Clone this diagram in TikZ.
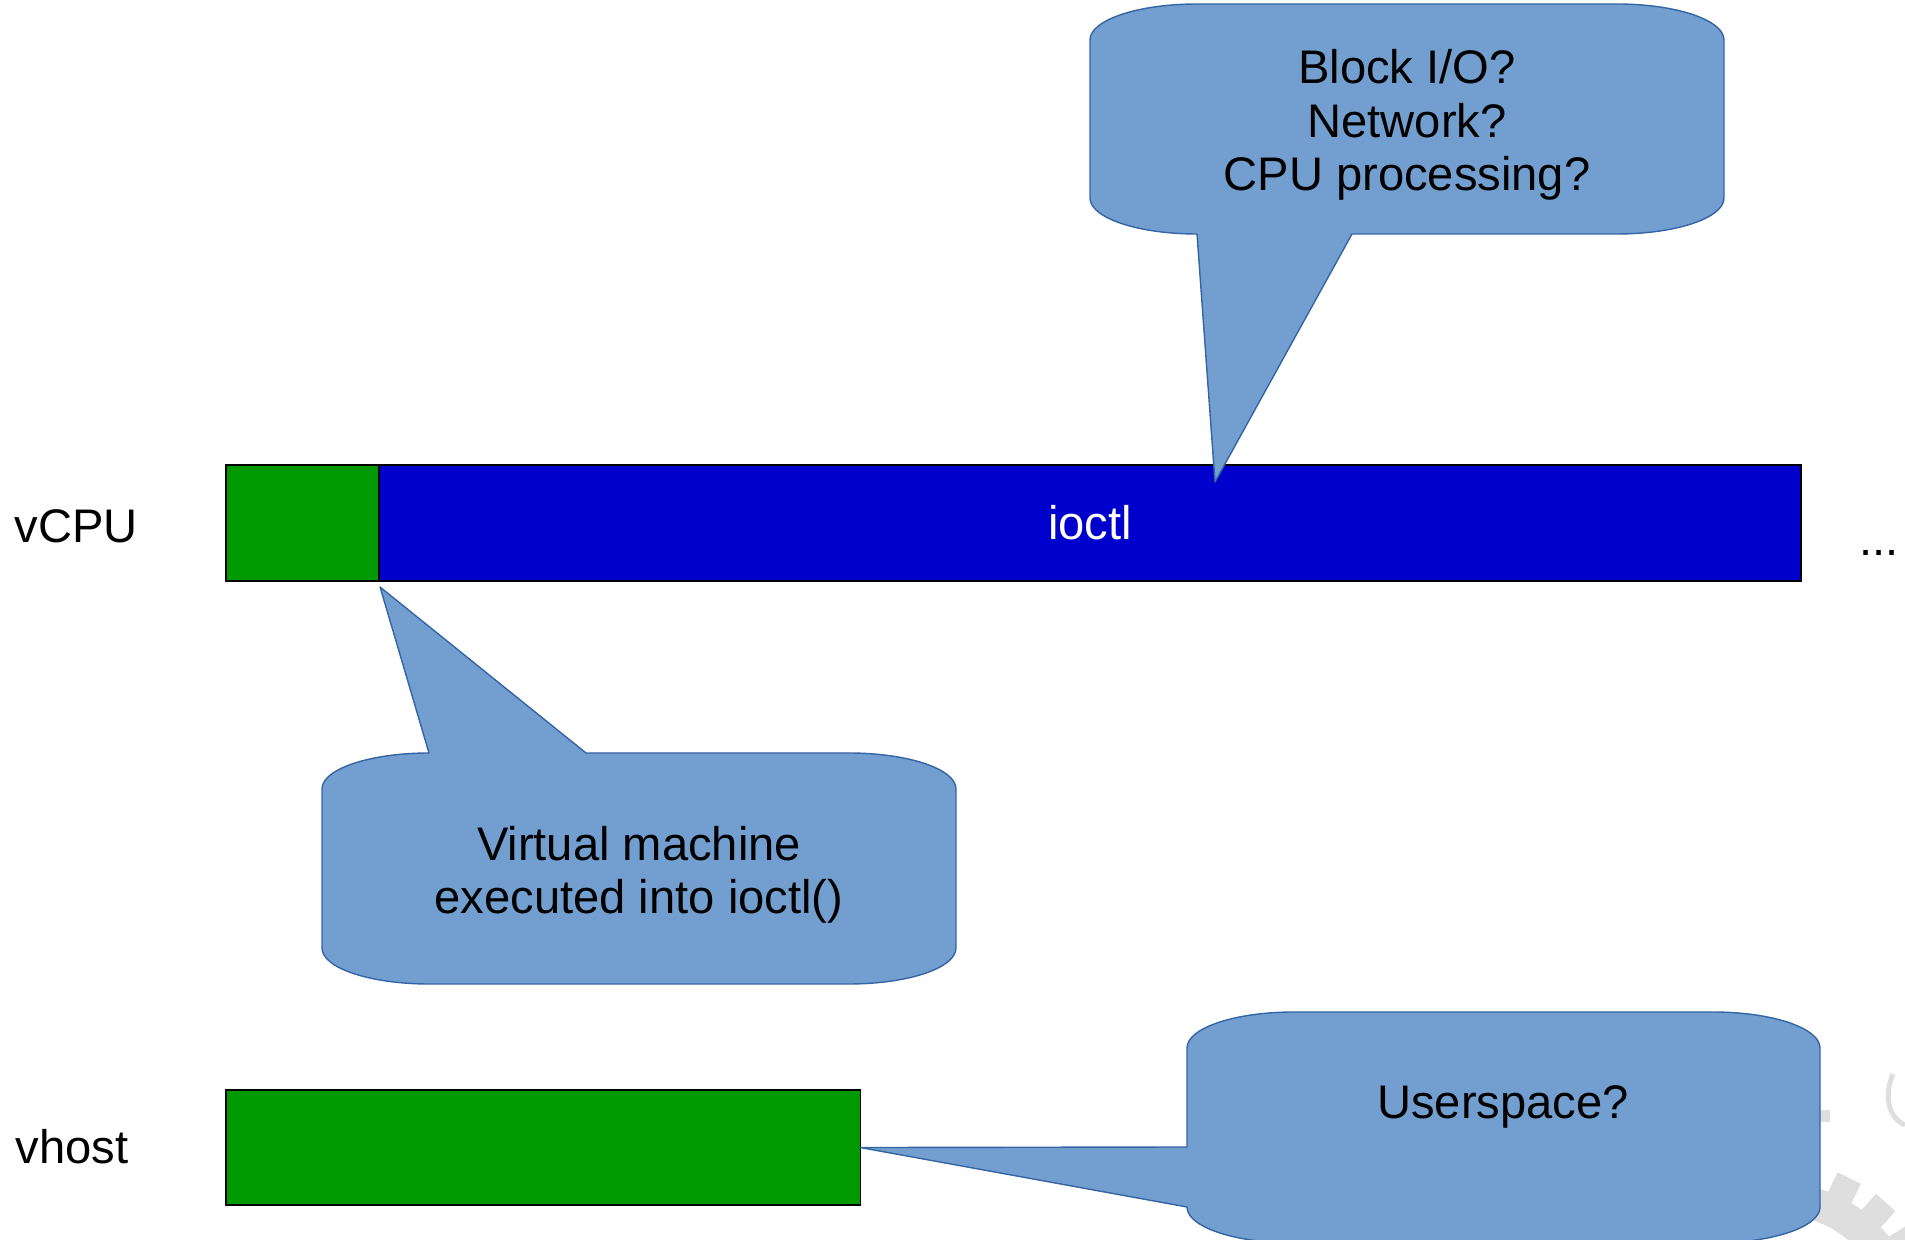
\documentclass[tikz,border=0pt]{standalone}
\usepackage{fontspec}
\setmainfont{Liberation Sans}
\usetikzlibrary{calc}

\definecolor{guestgreen}{RGB}{0,153,0}
\definecolor{ioctlblue}{RGB}{0,0,204}
\definecolor{bubblefill}{RGB}{114,159,207}
\definecolor{bubbleline}{RGB}{52,101,164}
\definecolor{markgray}{RGB}{222,222,222}

\begin{document}
\begin{tikzpicture}[x=0.01cm,y=-0.01cm,
  font=\fontsize{13.4}{15.2}\selectfont,
  bar/.style={draw=black,line width=0.4pt,inner sep=0pt,outer sep=0pt,anchor=north west,minimum height=1.16cm},
  bubble/.style={fill=bubblefill,draw=bubbleline,line width=0.4pt,line join=round},
  lbl/.style={inner sep=0pt,align=center}]
\useasboundingbox (0,0) rectangle (1905,1240);
\clip (0,0) rectangle (1905,1240);

% faint gear in the corner
\fill[markgray,even odd rule] (1780,1320) circle[radius=137] (1780,1320) circle[radius=105];
\foreach \a in {0,16,...,352}
  \fill[markgray,shift={(1780,1320)},rotate=\a] (130,-13) rectangle (158,13);
\fill[markgray] (1820,1110) rectangle (1830,1122);
\draw[markgray,line width=1.4pt] (1893,1074) .. controls (1884,1095) and (1888,1118) .. (1905,1125);

% rows
\node[lbl,anchor=west] (vcpu-lbl) at (14,526) {vCPU};
\node[lbl,anchor=west] (vhost-lbl) at (15,1147) {vhost};

\node[bar,fill=guestgreen,minimum width=1.53cm] (guest) at (226,465) {};
\node[bar,fill=ioctlblue,minimum width=14.21cm,text=white] (ioctl) at (379,465) {ioctl};
\node[lbl,anchor=base west] (more) at (1859,556) {...};

\node[bar,fill=guestgreen,minimum width=6.34cm,minimum height=1.15cm] (work) at (226,1090) {};

% callouts
\path[bubble] (1090,40) .. controls (1090,20) and (1138,4) .. (1197,4) -- (1617,4)
  .. controls (1676,4) and (1724,20) .. (1724,40) -- (1724,198)
  .. controls (1724,218) and (1676,234) .. (1617,234) -- (1352,234)
  -- ($(ioctl.north west)+(836,17)$) -- (1197,234)
  .. controls (1138,234) and (1090,218) .. (1090,198) -- cycle;
\node[lbl] (q-io) at (1407,125) {Block I/O?\\Network?\\CPU processing?};

\path[bubble] (322,789) .. controls (322,769) and (370,753) .. (429,753)
  -- ($(guest.south east)+(1,6)$) -- (586,753) -- (849,753)
  .. controls (908,753) and (956,769) .. (956,789) -- (956,948)
  .. controls (956,968) and (908,984) .. (849,984) -- (429,984)
  .. controls (370,984) and (322,968) .. (322,948) -- cycle;
\node[lbl] (q-vm) at (639,875) {Virtual machine\\executed into ioctl()};

\path[bubble] (1187,1048) .. controls (1187,1028) and (1235,1012) .. (1294,1012) -- (1713,1012)
  .. controls (1772,1012) and (1820,1028) .. (1820,1048) -- (1820,1207)
  .. controls (1820,1227) and (1772,1243) .. (1713,1243) -- (1294,1243)
  .. controls (1235,1243) and (1187,1227) .. (1187,1207)
  -- (work.east) -- (1187,1147) -- cycle;
\node[lbl] (q-user) at (1503,1107) {Userspace?};
\end{tikzpicture}
\end{document}
